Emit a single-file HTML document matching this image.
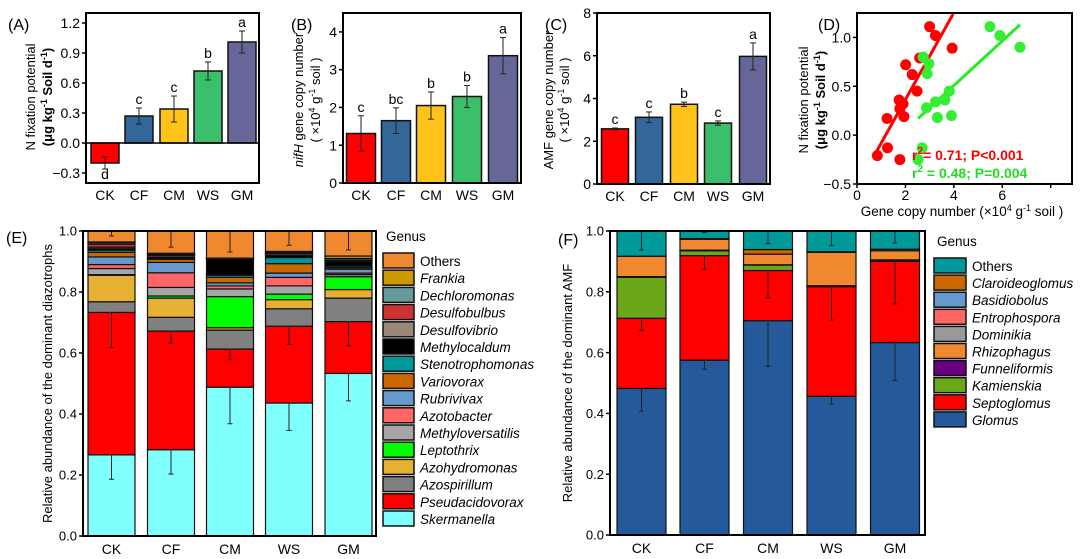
<!DOCTYPE html>
<html><head><meta charset="utf-8"><style>
body{margin:0;background:#fff}
svg{display:block;font-family:"Liberation Sans",Arial,sans-serif}
</style></head><body>
<svg id="fig" width="1080" height="559" viewBox="0 0 1080 559" xmlns="http://www.w3.org/2000/svg"></svg>
<script>
// ---- data ----
const groups = ["CK","CF","CM","WS","GM"];
const barColors = ["#FF0000","#336699","#FFC31A","#3CBF6A","#666699"];
const nfixVals = [-0.2,0.27,0.34,0.72,1.01];
const nfixErr = [0.06,0.08,0.13,0.09,0.11];
const nfixLetters = ["d","c","c","b","a"];
const nifhVals = [1.31,1.65,2.05,2.29,3.37];
const nifhErr = [0.47,0.34,0.36,0.29,0.48];
const nifhLetters = ["c","bc","b","b","a"];
const amfVals = [2.58,3.12,3.73,2.85,5.97];
const amfErr = [0.04,0.25,0.1,0.1,0.63];
const amfLetters = ["c","c","b","c","a"];
const redX = [0.84,1.26,1.24,1.77,1.74,1.9,1.94,1.77,2.01,2.28,2.48,2.59,3.0,3.24,3.93];
const redY = [-0.21,-0.13,0.17,-0.25,0.36,0.32,0.19,0.27,0.72,0.62,0.45,0.79,1.11,1.02,0.89];
const greenX = [2.73,2.97,2.9,2.87,3.24,3.32,3.63,3.81,3.9,5.49,5.9,6.73,2.69,2.52];
const greenY = [0.80,0.73,0.63,0.28,0.34,0.18,0.36,0.45,0.2,1.11,1.02,0.9,-0.13,-0.25];
const redFit = [0.8,-0.17,3.97,1.24];
const greenFit = [2.52,0.17,6.73,1.13];
const diazoGenera = ["Skermanella","Pseudacidovorax","Azospirillum","Azohydromonas","Leptothrix","Methyloversatilis","Azotobacter","Rubrivivax","Variovorax","Stenotrophomonas","Methylocaldum","Desulfovibrio","Desulfobulbus","Dechloromonas","Frankia","Others"];
const diazoColors = ["#80FFFF","#FF0000","#808080","#E6B033","#00FF00","#A6A6A6","#FF6666","#6699CC","#CC6600","#009999","#000000","#998877","#CC3333","#669999","#CC9900","#F08830"];
const diazoCK = [0.266,0.467,0.035,0.087,0.002,0.02,0.013,0.025,0.015,0.007,0.005,0.005,0.01,0.005,0.002,0.036];
const diazoCF = [0.283,0.389,0.045,0.063,0.007,0.028,0.048,0.034,0.01,0.003,0.005,0.005,0.002,0.003,0.002,0.073];
const diazoCM = [0.488,0.125,0.062,0.008,0.102,0.025,0.01,0.01,0.018,0.007,0.052,0.001,0.001,0.001,0.001,0.089];
const diazoWS = [0.436,0.252,0.057,0.03,0.018,0.027,0.028,0.014,0.031,0.02,0.007,0.005,0.003,0.003,0.002,0.067];
const diazoGM = [0.533,0.17,0.077,0.028,0.042,0.007,0.005,0.013,0.005,0.005,0.015,0.003,0.002,0.005,0.008,0.082];
const diazoErrSker = [0.08,0.08,0.12,0.09,0.09];
const diazoErrPseud = [0.115,0.04,0.035,0.06,0.08];
const amfGenera = ["Glomus","Septoglomus","Kamienskia","Funneliformis","Rhizophagus","Dominikia","Entrophospora","Basidiobolus","Claroideoglomus","Others"];
const amfColors = ["#245A9A","#FF0000","#6AA81A","#6A0080","#F08830","#999999","#FF6666","#6699CC","#CC6600","#009999"];
const amfCK = [0.482,0.231,0.135,0.002,0.067,0,0,0,0,0.083];
const amfCF = [0.575,0.344,0.016,0.002,0.036,0,0,0,0.002,0.025];
const amfCM = [0.705,0.165,0.018,0.001,0.035,0,0,0,0.015,0.061];
const amfWS = [0.456,0.361,0.002,0.001,0.11,0,0,0,0.002,0.068];
const amfGM = [0.633,0.267,0.003,0.002,0.03,0,0,0,0.005,0.06];
const amfErrGlomus = [0.075,0.03,0.15,0.025,0.125];
const amfErrSepto = [0.04,0.045,0.09,0.11,0.14];

// ---- helpers ----
const NS="http://www.w3.org/2000/svg";
const svg=document.getElementById('fig');
function el(tag,attrs,parent,text){const e=document.createElementNS(NS,tag);for(const k in attrs)e.setAttribute(k,attrs[k]);if(text!==undefined)e.textContent=text;(parent||svg).appendChild(e);return e;}
function lin(d0,d1,r0,r1){return v=>r0+(v-d0)*(r1-r0)/(d1-d0);}
function grp(name){const g=el('g',{});return g;}
function frame(g,x0,y0,x1,y1){const r=el('rect',{x:x0,y:y0,width:x1-x0,height:y1-y0,fill:'none',stroke:'#000','stroke-width':2},g);}
function yTicks(g,x0,ys,vals,labels,fs){vals.forEach((v,i)=>{const y=ys(v);el('line',{x1:x0-4,x2:x0,y1:y,y2:y,stroke:'#000','stroke-width':1.5},g);const t=el('text',{x:x0-6,y:y+fs*0.36,'font-size':fs,'text-anchor':'end'},g,labels[i]);});}
function panelLabel(x,y,s){const t=el('text',{x:x,y:y,'font-size':16},svg,'('+s+')');}
function errBar(g,x,y1,y2,w){el('line',{x1:x,x2:x,y1:y1,y2:y2,stroke:'#222','stroke-width':1},g);el('line',{x1:x-w,x2:x+w,y1:y1,y2:y1,stroke:'#222','stroke-width':1},g);el('line',{x1:x-w,x2:x+w,y1:y2,y2:y2,stroke:'#222','stroke-width':1},g);}
function yTitle(g,x,cy,content,fs,weight){const t=el('text',{transform:`translate(${x},${cy}) rotate(-90)`,'font-size':fs,'text-anchor':'middle','font-weight':weight||'normal'},g);t.innerHTML=content;return t;}

function barPanel(name,x0,x1,y0,y1,dmin,dmax,centers,bw,vals,errs,letters,tickVals,tickLabels){
  const g=grp(name);
  const ys=lin(dmin,dmax,y1,y0);
  vals.forEach((v,i)=>{
    const cx=centers[i];const top=ys(Math.max(v,0)),bot=ys(Math.min(v,0));
    const r=el('rect',{x:cx-bw/2,y:top,width:bw,height:bot-top,fill:barColors[i],stroke:'#111','stroke-width':1.5},g);
    
    
    const ea=ys(v+errs[i]),eb=ys(v-errs[i]);
    errBar(g,cx,ea,eb,3);
    const ly = v>=0 ? ea-4 : eb+10;
    const t=el('text',{x:cx,y:ly,'font-size':14,'text-anchor':'middle'},g,letters[i]);
    
    
    const xl=el('text',{x:cx,y:y1+17,'font-size':14,'text-anchor':'middle'},g,groups[i]);
    
    
  });
  if(dmin<0){el('line',{x1:x0,x2:x1,y1:ys(0),y2:ys(0),stroke:'#000','stroke-width':1.5},g);}
  frame(g,x0,y0,x1,y1);
  yTicks(g,x0,ys,tickVals,tickLabels,14);
  return g;
}

// ---- Panel A ----
panelLabel(8,30,'A');
const gA=barPanel('panel-a-nfix',86,259,13,183,-0.4,1.3,[105,139,174,208,242],28,nfixVals,nfixErr,nfixLetters,[-0.3,0,0.3,0.6,0.9,1.2],["−0.3","0.0","0.3","0.6","0.9","1.2"]);
yTitle(gA,35,97,'N fixation potential',13);
yTitle(gA,52,97,'(μg kg<tspan dy="-5" font-size="9">-1</tspan><tspan dy="5"> Soil  d</tspan><tspan dy="-5" font-size="9">-1</tspan><tspan dy="5">)</tspan>',13,'bold');

// ---- Panel B ----
panelLabel(291,30,'B');
const gB=barPanel('panel-b-nifh',343,521,13,183,0,4.5,[361,396,431,467,503],29,nifhVals,nifhErr,nifhLetters,[0,1,2,3,4],["0","1","2","3","4"]);
yTitle(gB,303,100,'<tspan font-style="italic">nifH</tspan> gene copy number',13);
yTitle(gB,320,100,'( ×10<tspan dy="-5" font-size="9">4</tspan><tspan dy="5"> g</tspan><tspan dy="-5" font-size="9">-1</tspan><tspan dy="5"> soil )</tspan>',13);

// ---- Panel C ----
panelLabel(545,30,'C');
const gC=barPanel('panel-c-amf',597,770,13,184,0,8,[615,649,684,718,753],27,amfVals,amfErr,amfLetters,[0,2,4,6,8],["0","2","4","6","8"]);
yTitle(gC,553,100,'AMF gene copy number',13);
yTitle(gC,569,100,'( ×10<tspan dy="-5" font-size="9">4</tspan><tspan dy="5"> g</tspan><tspan dy="-5" font-size="9">-1</tspan><tspan dy="5"> soil )</tspan>',13);

// ---- Panel D ----
panelLabel(818,30,'D');
(function(){
  const g=grp('panel-d-scatter');
  const x0=857,x1=1072,y0=13,y1=184;
  const xs=lin(0,8.88,x0,x1), ys=lin(-0.5,1.25,y1,y0);
  const fr=el('line',{x1:xs(redFit[0]),y1:ys(redFit[1]),x2:xs(redFit[2]),y2:ys(redFit[3]),stroke:'#FF0000','stroke-width':3},g);
  
  const fg=el('line',{x1:xs(greenFit[0]),y1:ys(greenFit[1]),x2:xs(greenFit[2]),y2:ys(greenFit[3]),stroke:'#22EE22','stroke-width':3},g);
  
  redX.forEach((x,i)=>{const c=el('circle',{cx:xs(x),cy:ys(redY[i]),r:5.5,fill:'#FF0000'},g);});
  greenX.forEach((x,i)=>{const c=el('circle',{cx:xs(x),cy:ys(greenY[i]),r:5.5,fill:'#33EE33'},g);});
  const t1=el('text',{x:912,y:160,'font-size':14,'font-weight':'bold',fill:'#FF0000'},g);
  t1.innerHTML='r<tspan dy="-6" font-size="10">2</tspan><tspan dy="6">= 0.71; P&lt;0.001</tspan>';
  
  const t2=el('text',{x:912,y:178,'font-size':14,'font-weight':'bold',fill:'#22DD22'},g);
  t2.innerHTML='r<tspan dy="-6" font-size="10">2</tspan><tspan dy="6"> = 0.48; P=0.004</tspan>';
  
  frame(g,x0,y0,x1,y1);
  yTicks(g,x0,ys,[-0.5,0,0.5,1.0],["−0.5","0.0","0.5","1.0"],14);
  [0,2,4,6,8].forEach(v=>{const x=xs(v);el('line',{x1:x,x2:x,y1:y1,y2:y1+4,stroke:'#000','stroke-width':1.5},g);if(v<8){const t=el('text',{x:x,y:y1+16,'font-size':14,'text-anchor':'middle'},g,String(v));}});
  const xt=el('text',{x:962,y:216,'font-size':13.5,'text-anchor':'middle'},g);
  xt.innerHTML='Gene copy number (×10<tspan dy="-5" font-size="9">4</tspan><tspan dy="5"> g</tspan><tspan dy="-5" font-size="9">-1</tspan><tspan dy="5"> soil )</tspan>';
  
  yTitle(g,808,100,'N fixation potential',13);
  yTitle(g,825,100,'(μg kg<tspan dy="-5" font-size="9">-1</tspan><tspan dy="5"> Soil  d</tspan><tspan dy="-5" font-size="9">-1</tspan><tspan dy="5">)</tspan>',13,'bold');
})();

// ---- stacked panels ----
function stackPanel(name,x0,x1,y0,y1,centers,bw,data,colors,errA,errB,title,titleX){
  const g=grp(name);
  const ys=lin(0,1,y1,y0);
  data.forEach((arr,i)=>{
    let cum=0;const cx=centers[i];
    arr.forEach((v,j)=>{
      if(v<=0){return;}
      const top=ys(cum+v),bot=ys(cum);
      const r=el('rect',{x:cx-bw/2,y:top,width:bw,height:bot-top,fill:colors[j],stroke:'#111','stroke-width':1.2},g);
      
      
      cum+=v;
    });
    const c0=arr[0],c1=arr[0]+arr[1];
    errBar(g,cx,ys(c0),ys(c0-errA[i]),2.5);
    errBar(g,cx,ys(c1),ys(c1-errB[i]),2.5);
    const oTop=1-arr[arr.length-1];
    errBar(g,cx,ys(1),ys(Math.max(oTop,1-0.1)+0.02),2.5);
    const xl=el('text',{x:cx,y:y1+18,'font-size':14,'text-anchor':'middle'},g,groups[i]);
    
    
  });
  frame(g,x0,y0,x1,y1);
  yTicks(g,x0,ys,[0,0.2,0.4,0.6,0.8,1.0],["0.0","0.2","0.4","0.6","0.8","1.0"],13);
  yTitle(g,titleX,(y0+y1)/2,title,13);
}
function legend(name,x,y,sw,sh,gap,names,colors){
  const g=grp(name);
  const h=el('text',{x:x+3,y:y-12,'font-size':13.5},g,'Genus');
  
  for(let k=names.length-1,i=0;k>=0;k--,i++){
    const yy=y+i*gap;
    const r=el('rect',{x:x,y:yy,width:sw,height:sh,fill:colors[k],stroke:'#111','stroke-width':1.5},g);
    
    const t=el('text',{x:x+sw+6,y:yy+sh-2,'font-size':13.5,'font-style':names[k]==='Others'?'normal':'italic'},g,names[k]);
    
  }
}
panelLabel(6,243,'E');
stackPanel('panel-e-diazotrophs',83,376,231,536,[111.5,171,230,289,348.5],47,[diazoCK,diazoCF,diazoCM,diazoWS,diazoGM],diazoColors,diazoErrSker,diazoErrPseud,'Relative abundance of the dominant diazotrophs',52);
legend('legend-e',383,253,31,15,17.2,diazoGenera,diazoColors);
panelLabel(558,245,'F');
stackPanel('panel-f-amf',610,925,231,535,[641.5,704.5,768,831.5,895],49,[amfCK,amfCF,amfCM,amfWS,amfGM],amfColors,amfErrGlomus,amfErrSepto,'Relative abundance of the dominant AMF',572);
legend('legend-f',934,258,32,15,17.1,amfGenera,amfColors);
</script>
</body></html>
